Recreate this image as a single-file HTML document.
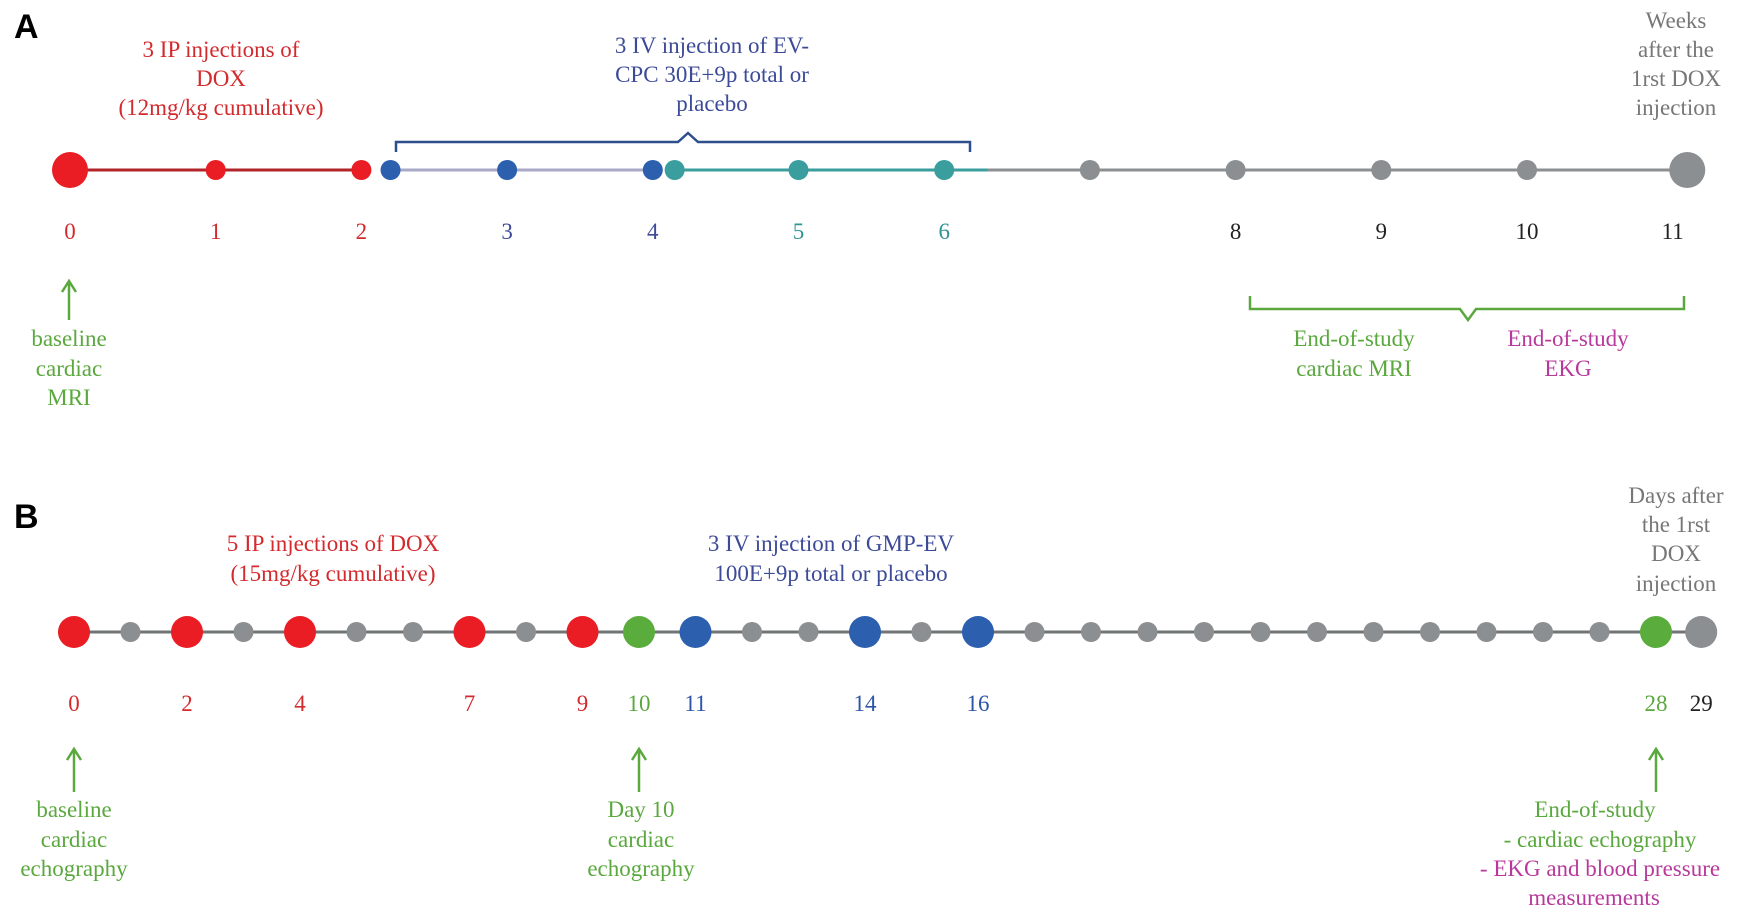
<!DOCTYPE html>
<html><head><meta charset="utf-8">
<style>
html,body{margin:0;padding:0;background:#fff;}
svg{display:block;font-family:"Liberation Serif",serif;}
</style></head>
<body>
<svg id="fig" width="1750" height="920" viewBox="0 0 1750 920" xmlns="http://www.w3.org/2000/svg">
  <text x="14" y="38" font-family="Liberation Sans, sans-serif" font-weight="bold" font-size="34">A</text>
  <text x="14" y="528" font-family="Liberation Sans, sans-serif" font-weight="bold" font-size="34">B</text>

  <g font-size="23" text-anchor="middle">
    <text fill="#d32a2e"><tspan x="221" y="57">3 IP injections of</tspan><tspan x="221" y="86">DOX</tspan><tspan x="221" y="115">(12mg/kg cumulative)</tspan></text>
    <text fill="#3c4a98"><tspan x="712" y="53">3 IV injection of EV-</tspan><tspan x="712" y="82">CPC 30E+9p total or</tspan><tspan x="712" y="111">placebo</tspan></text>
    <text fill="#777"><tspan x="1676" y="28">Weeks</tspan><tspan x="1676" y="57">after the</tspan><tspan x="1676" y="86">1rst DOX</tspan><tspan x="1676" y="115">injection</tspan></text>
    <path d="M396 152 V142 H678 L688 133 L698 142 H970 V152" fill="none" stroke="#2e4f8e" stroke-width="2.5"/>
    <line x1="69" y1="283" x2="69" y2="320" stroke="#5aa83e" stroke-width="2.5"/>
    <path d="M62 292 L69 281 L76 292" fill="none" stroke="#5aa83e" stroke-width="2.5"/>
    <text fill="#5aa83e"><tspan x="69" y="346">baseline</tspan><tspan x="69" y="376">cardiac</tspan><tspan x="69" y="405">MRI</tspan></text>
    <path d="M1250 296 V309 H1460 L1468 320 L1476 309 H1684 V296" fill="none" stroke="#5aa83e" stroke-width="2.5"/>
    <text fill="#5aa83e"><tspan x="1354" y="346">End-of-study</tspan><tspan x="1354" y="376">cardiac MRI</tspan></text>
    <text fill="#b8399c"><tspan x="1568" y="346">End-of-study</tspan><tspan x="1568" y="376">EKG</tspan></text>
  </g>

  <g font-size="23" text-anchor="middle">
    <text fill="#d32a2e"><tspan x="333" y="551">5 IP injections of DOX</tspan><tspan x="333" y="581">(15mg/kg cumulative)</tspan></text>
    <text fill="#3c4a98"><tspan x="831" y="551">3 IV injection of GMP-EV</tspan><tspan x="831" y="581">100E+9p total or placebo</tspan></text>
    <text fill="#777"><tspan x="1676" y="503">Days after</tspan><tspan x="1676" y="532">the 1rst</tspan><tspan x="1676" y="561">DOX</tspan><tspan x="1676" y="591">injection</tspan></text>
    <text fill="#5aa83e"><tspan x="74" y="817">baseline</tspan><tspan x="74" y="847">cardiac</tspan><tspan x="74" y="876">echography</tspan></text>
    <text fill="#5aa83e"><tspan x="641" y="817">Day 10</tspan><tspan x="641" y="847">cardiac</tspan><tspan x="641" y="876">echography</tspan></text>
    <text><tspan x="1595" y="817" fill="#5aa83e">End-of-study</tspan><tspan x="1600" y="847" fill="#5aa83e">- cardiac echography</tspan><tspan x="1600" y="876" fill="#b8399c">- EKG and blood pressure</tspan><tspan x="1594" y="905" fill="#b8399c">measurements</tspan></text>
  </g>
  <g id="layerA"></g>
  <g id="layerB"></g>
</svg>
<script>
// Panel A data (weeks)
const weeksA = [0, 1, 2, 2.2, 3, 4, 4.15, 5, 6, 7, 8, 9, 10, 11.1];
const colorsA = ["red","red","red","blue","blue","blue","teal","teal","teal","gray","gray","gray","gray","gray"];
const sizesA = ["big","small","small","small","small","small","small","small","small","small","small","small","small","big"];
const tickWeeksA = [0, 1, 2, 3, 4, 5, 6, 8, 9, 10, 11];
const tickLabelsA = ["0","1","2","3","4","5","6","8","9","10","11"];
const tickColorsA = ["red","red","red","navy","navy","teal","teal","black","black","black","black"];
const segStartA = [0, 2.2, 4.15, 6.3];
const segEndA = [2, 4, 6.3, 11.1];
const segColorsA = ["darkred","lavender","teal","gray"];
// Panel B data (days)
const daysB = [0,1,2,3,4,5,6,7,8,9,10,11,12,13,14,15,16,17,18,19,20,21,22,23,24,25,26,27,28,28.8];
const colorsB = ["red","gray","red","gray","red","gray","gray","red","gray","red","green","blue","gray","gray","blue","gray","blue","gray","gray","gray","gray","gray","gray","gray","gray","gray","gray","gray","green","gray"];
const sizesB = ["big","small","big","small","big","small","small","big","small","big","big","big","small","small","big","small","big","small","small","small","small","small","small","small","small","small","small","small","big","big"];
const tickDaysB = [0,2,4,7,9,10,11,14,16,28,28.8];
const tickLabelsB = ["0","2","4","7","9","10","11","14","16","28","29"];
const tickColorsB = ["red","red","red","red","red","green","blue","blue","blue","green","black"];
const arrowDaysB = [0, 10, 28];

const PAL = {red:"#ea1c24", blue:"#2c5fae", teal:"#3a9e9e", gray:"#8b8f91", green:"#5aad3c",
  navy:"#3c4a98", black:"#222", darkred:"#b3242a", lavender:"#a9aac8"};
const TXT = {red:"#d32a2e", navy:"#3c4a98", teal:"#2f9494", black:"#222", green:"#5aa83e", blue:"#2c55a8"};
const NS = "http://www.w3.org/2000/svg";
const xA = w => 70 + w * 145.7;
const xB = d => 74 + d * 56.5;
const yA = 170, yB = 632;

function mk(tag, attrs, parent){
  const el = document.createElementNS(NS, tag);
  for (const k in attrs) el.setAttribute(k, attrs[k]);
  parent.appendChild(el);
  return el;
}
const gA = document.getElementById("layerA");
const gB = document.getElementById("layerB");

segStartA.forEach((s, i) => {
  const l = mk("line", {x1: xA(s), y1: yA, x2: xA(segEndA[i]), y2: yA, stroke: PAL[segColorsA[i]], "stroke-width": 3}, gA);
  
  
});
weeksA.forEach((w, i) => {
  const c = mk("circle", {cx: xA(w), cy: yA, r: sizesA[i] === "big" ? 18 : 10, fill: PAL[colorsA[i]]}, gA);
  
  
});
tickWeeksA.forEach((w, i) => {
  const t = mk("text", {x: xA(w), y: 239, "text-anchor": "middle", "font-size": 23, fill: TXT[tickColorsA[i]]}, gA);
  t.textContent = tickLabelsA[i];
  
  
});

const lb = mk("line", {x1: xB(0), y1: yB, x2: xB(daysB[daysB.length-1]), y2: yB, stroke: "#707476", "stroke-width": 3}, gB);


daysB.forEach((d, i) => {
  const c = mk("circle", {cx: xB(d), cy: yB, r: sizesB[i] === "big" ? 16 : 10, fill: PAL[colorsB[i]]}, gB);
  
  
});
tickDaysB.forEach((d, i) => {
  const t = mk("text", {x: xB(d), y: 711, "text-anchor": "middle", "font-size": 23, fill: TXT[tickColorsB[i]]}, gB);
  t.textContent = tickLabelsB[i];
  
  
});
arrowDaysB.forEach(d => {
  const x = xB(d);
  const s = mk("line", {x1: x, y1: 750, x2: x, y2: 792, stroke: "#5aa83e", "stroke-width": 2.5}, gB);
  
  
  const h = mk("path", {d: `M${x-7} 760 L${x} 749 L${x+7} 760`, fill: "none", stroke: "#5aa83e", "stroke-width": 2.5}, gB);
  
  
});
</script>
</body></html>
